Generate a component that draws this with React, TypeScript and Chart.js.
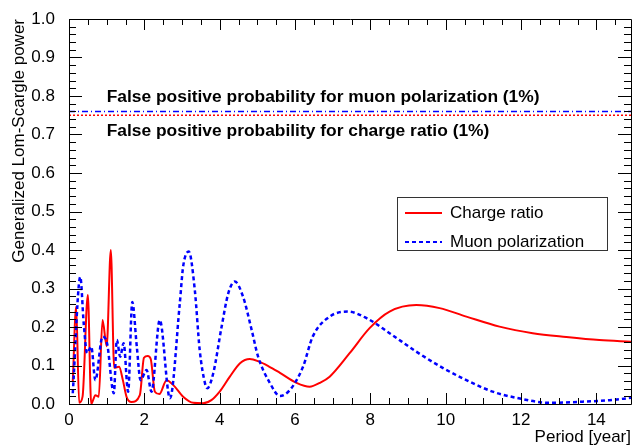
import React, { useEffect, useRef } from 'react';
import { Chart, registerables } from 'chart.js';

Chart.register(...registerables);

// ---- data ----
const chargePeriod = [0.10, 0.19, 0.27, 0.36, 0.50, 0.59, 0.70, 0.79, 0.89, 1.00, 1.11, 1.20, 1.33, 1.43, 1.53, 1.66, 1.88, 1.99, 2.09, 2.17, 2.28, 2.40, 2.59, 2.77, 3.03, 3.30, 3.56, 3.78, 4.00, 4.27, 4.54, 4.80, 5.05, 5.30, 5.60, 6.04, 6.39, 6.66, 6.92, 7.45, 7.98, 8.51, 9.22, 9.84, 10.55, 11.43, 12.31, 13.20, 14.08, 14.92];
const chargePower = [0.058, 0.253, 0.003, 0.019, 0.283, 0.0, 0.023, 0.019, 0.218, 0.15, 0.40, 0.094, 0.097, 0.062, 0.018, 0.005, 0.023, 0.12, 0.125, 0.117, 0.032, 0.026, 0.062, 0.049, 0.019, 0.003, 0.002, 0.01, 0.032, 0.071, 0.106, 0.117, 0.11, 0.098, 0.081, 0.055, 0.045, 0.055, 0.071, 0.132, 0.197, 0.24, 0.257, 0.249, 0.227, 0.201, 0.184, 0.174, 0.166, 0.162];

const muonPeriod = [0.10, 0.30, 0.39, 0.48, 0.59, 0.70, 0.89, 1.01, 1.19, 1.27, 1.36, 1.45, 1.57, 1.68, 1.80, 1.90, 2.06, 2.19, 2.41, 2.68, 2.94, 3.03, 3.18, 3.34, 3.47, 3.61, 3.67, 3.83, 4.05, 4.23, 4.40, 4.62, 4.85, 5.02, 5.33, 5.60, 5.86, 6.21, 6.47, 6.92, 7.40, 7.90, 8.51, 9.22, 9.92, 10.55, 11.25, 11.88, 12.76, 13.63, 14.35, 14.92];
const muonPower = [0.028, 0.33, 0.21, 0.132, 0.149, 0.062, 0.175, 0.158, 0.028, 0.166, 0.123, 0.158, 0.032, 0.265, 0.149, 0.062, 0.088, 0.032, 0.218, 0.015, 0.26, 0.357, 0.396, 0.296, 0.14, 0.054, 0.041, 0.08, 0.2, 0.288, 0.318, 0.279, 0.192, 0.123, 0.055, 0.021, 0.036, 0.096, 0.175, 0.227, 0.24, 0.223, 0.184, 0.136, 0.094, 0.062, 0.032, 0.016, 0.003, 0.006, 0.01, 0.016];

const muonThreshold = 0.76;
const chargeThreshold = 0.75;

const xTickValues = [0, 2, 4, 6, 8, 10, 12, 14];
const yTickValues = [0, 0.1, 0.2, 0.3, 0.4, 0.5, 0.6, 0.7, 0.8, 0.9, 1.0];
const xRange = [0, 14.92];
const yRange = [0, 1];

const seriesLabels = ['Charge ratio', 'Muon polarization'];
const xTitle = 'Period [year]';
const yTitle = 'Generalized Lom-Scargle power';
const annotationTexts = [
  'False positive probability for muon polarization (1%)',
  'False positive probability for charge ratio (1%)',
];
const annotationX = [1.0, 1.0];
const annotationY = [0.797, 0.709];

// ---- styles ----
const FONT = '"Liberation Sans", Arial, Helvetica, sans-serif';
const RED = '#ff0000';
const BLUE = '#0000ff';

const toPoints = (xs: number[], ys: number[]) => xs.map((x, i) => ({ x, y: ys[i] }));

const rootFramePlugin = {
  id: 'rootFrame',
  afterDatasetsDraw(chart: any) {
    const { ctx, chartArea: a, scales } = chart;
    const xs = scales.x;
    const ys = scales.y;
    ctx.save();
    ctx.strokeStyle = '#000';
    ctx.lineWidth = 1;
    ctx.beginPath();
    ctx.rect(Math.round(a.left) + 0.5, Math.round(a.top) + 0.5, Math.round(a.right - a.left), Math.round(a.bottom - a.top));
    ctx.stroke();

    // y ticks (left and right, inward)
    ctx.beginPath();
    for (let i = 0; i <= 50; i++) {
      const v = i * 0.02;
      const py = Math.round(ys.getPixelForValue(v)) + 0.5;
      const len = i % 5 === 0 ? 13 : 7;
      ctx.moveTo(a.left, py);
      ctx.lineTo(a.left + len, py);
      ctx.moveTo(a.right, py);
      ctx.lineTo(a.right - len, py);
    }
    // x ticks (bottom and top, inward)
    for (let i = 0; i <= 29; i++) {
      const v = i * 0.5;
      if (v > xRange[1]) break;
      const px = Math.round(xs.getPixelForValue(v)) + 0.5;
      const len = i % 4 === 0 ? 11 : 6;
      ctx.moveTo(px, a.bottom);
      ctx.lineTo(px, a.bottom - len);
      ctx.moveTo(px, a.top);
      ctx.lineTo(px, a.top + len);
    }
    ctx.stroke();

    // annotations
    ctx.fillStyle = '#000';
    ctx.font = `bold 17.4px ${FONT}`;
    ctx.textAlign = 'left';
    ctx.textBaseline = 'middle';
    annotationTexts.forEach((t, i) => {
      ctx.fillText(t, xs.getPixelForValue(annotationX[i]), ys.getPixelForValue(annotationY[i]));
    });

    // legend box
    const bx = 397, by = 197, bw = 210, bh = 53;
    ctx.fillStyle = '#fff';
    ctx.fillRect(bx, by, bw, bh);
    ctx.strokeStyle = '#333';
    ctx.lineWidth = 1;
    ctx.strokeRect(bx + 0.5, by + 0.5, bw, bh);
    const rows = [by + 16, by + 45];
    const colors = [RED, BLUE];
    const dashes = [[], [4, 3]];
    const widths = [2, 2];
    ctx.font = `17px ${FONT}`;
    rows.forEach((ry, i) => {
      ctx.beginPath();
      ctx.setLineDash(dashes[i]);
      ctx.strokeStyle = colors[i];
      ctx.lineWidth = widths[i];
      ctx.moveTo(bx + 8, ry);
      ctx.lineTo(bx + 45, ry);
      ctx.stroke();
      ctx.setLineDash([]);
      ctx.fillStyle = '#000';
      ctx.fillText(seriesLabels[i], bx + 53, ry);
    });
    ctx.restore();
  },
};

export default function App() {
  const ref = useRef<HTMLCanvasElement | null>(null);

  useEffect(() => {
    if (!ref.current) return;
    const chart = new Chart(ref.current, {
      type: 'line',
      data: {
        datasets: [
          {
            label: 'muon threshold',
            data: [{ x: xRange[0], y: muonThreshold }, { x: xRange[1], y: muonThreshold }],
            borderColor: BLUE,
            borderWidth: 1.5,
            borderDash: [6, 3, 1, 3],
            pointRadius: 0,
            tension: 0,
          },
          {
            label: 'charge threshold',
            data: [{ x: xRange[0], y: chargeThreshold }, { x: xRange[1], y: chargeThreshold }],
            borderColor: RED,
            borderWidth: 1.5,
            borderDash: [2, 2],
            pointRadius: 0,
            tension: 0,
          },
          {
            label: seriesLabels[1],
            data: toPoints(muonPeriod, muonPower),
            borderColor: BLUE,
            borderWidth: 2.5,
            borderDash: [4, 3],
            pointRadius: 0,
            cubicInterpolationMode: 'monotone',
          },
          {
            label: seriesLabels[0],
            data: toPoints(chargePeriod, chargePower),
            borderColor: RED,
            borderWidth: 2,
            pointRadius: 0,
            cubicInterpolationMode: 'monotone',
          },
        ],
      },
      options: {
        animation: false,
        responsive: false,
        layout: { padding: { top: 19, right: 3, left: 0, bottom: 0 } },
        plugins: { legend: { display: false }, tooltip: { enabled: false } },
        scales: {
          x: {
            type: 'linear',
            min: xRange[0],
            max: xRange[1],
            grid: { display: false },
            border: { display: false },
            afterBuildTicks: (s: any) => { s.ticks = xTickValues.map((v) => ({ value: v })); },
            afterFit: (s: any) => { s.height = 44; },
            ticks: {
              autoSkip: false,
              maxRotation: 0,
              padding: -2,
              color: '#000',
              font: { family: FONT, size: 17 },
              callback: (v: any) => String(v),
            },
            title: {
              display: true,
              text: xTitle,
              align: 'end',
              color: '#000',
              font: { family: FONT, size: 17 },
              padding: { top: 0, bottom: 0 },
            },
          },
          y: {
            type: 'linear',
            min: yRange[0],
            max: yRange[1],
            grid: { display: false },
            border: { display: false },
            afterBuildTicks: (s: any) => { s.ticks = yTickValues.map((v) => ({ value: v })); },
            afterFit: (s: any) => { s.width = 69; },
            ticks: {
              autoSkip: false,
              padding: 6,
              color: '#000',
              font: { family: FONT, size: 17 },
              callback: (v: any) => Number(v).toFixed(1),
            },
            title: {
              display: true,
              text: yTitle,
              align: 'end',
              color: '#000',
              font: { family: FONT, size: 17 },
              padding: { top: 9, bottom: 0 },
            },
          },
        },
      },
      plugins: [rootFramePlugin],
    } as any);
    return () => chart.destroy();
  }, []);

  return (
    <div style={{ position: 'fixed', left: 0, top: 0, width: 634, height: 448, background: '#fff' }}>
      <canvas ref={ref} width={634} height={448} style={{ display: 'block' }} />
    </div>
  );
}
